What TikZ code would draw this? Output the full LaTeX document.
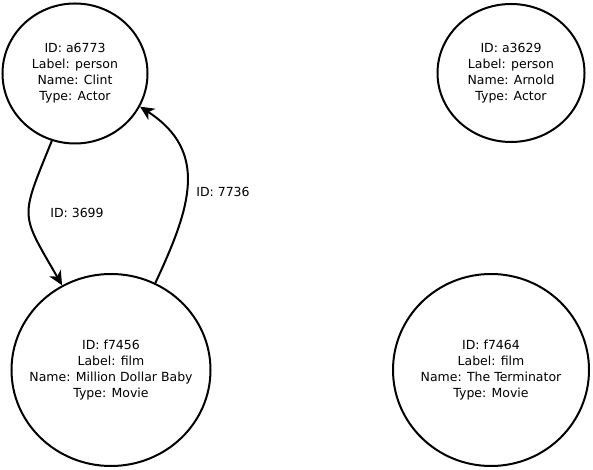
\documentclass[tikz,border=0pt]{standalone}
\usepackage{fontspec}
\setmainfont{DejaVu Sans}
\usetikzlibrary{shapes.geometric,arrows.meta}
\begin{document}
\begin{tikzpicture}[x=1pt,y=1pt,
  ent/.style={ellipse, draw, line width=2pt, inner xsep=-20pt, inner ysep=0pt, align=center,
    font=\fontsize{12.5}{16}\selectfont},
  rel/.style={line width=2pt, -{Stealth[length=14pt,width=13pt,inset=4pt]}},
  lbl/.style={font=\fontsize{12.5}{16}\selectfont, inner sep=0pt}]
\useasboundingbox (0,0) rectangle (593,470);
\node[ent, minimum width=145pt, minimum height=140pt] (a6773) at (75,396.5)
  {ID: a6773\\Label: person\\Name: Clint\\Type: Actor};
\node[ent, minimum width=147pt, minimum height=138pt] (a3629) at (511,397)
  {ID: a3629\\Label: person\\Name: Arnold\\Type: Actor};
\node[ent, minimum width=199pt, minimum height=192pt] (f7456) at (111,100)
  {ID: f7456\\Label: film\\Name: Million Dollar Baby\\Type: Movie};
\node[ent, minimum width=196pt, minimum height=192pt] (f7464) at (491,100)
  {ID: f7464\\Label: film\\Name: The Terminator\\Type: Movie};
\draw[rel] (a6773.251) to[out=248,in=120,looseness=1.5] (f7456.120);
\draw[rel] (f7456.63) to[out=65,in=327,looseness=1.2] (a6773.333);
\node[lbl] (l3699) at (77,257) {ID: 3699};
\node[lbl] (l7736) at (223,278) {ID: 7736};
\end{tikzpicture}
\end{document}
